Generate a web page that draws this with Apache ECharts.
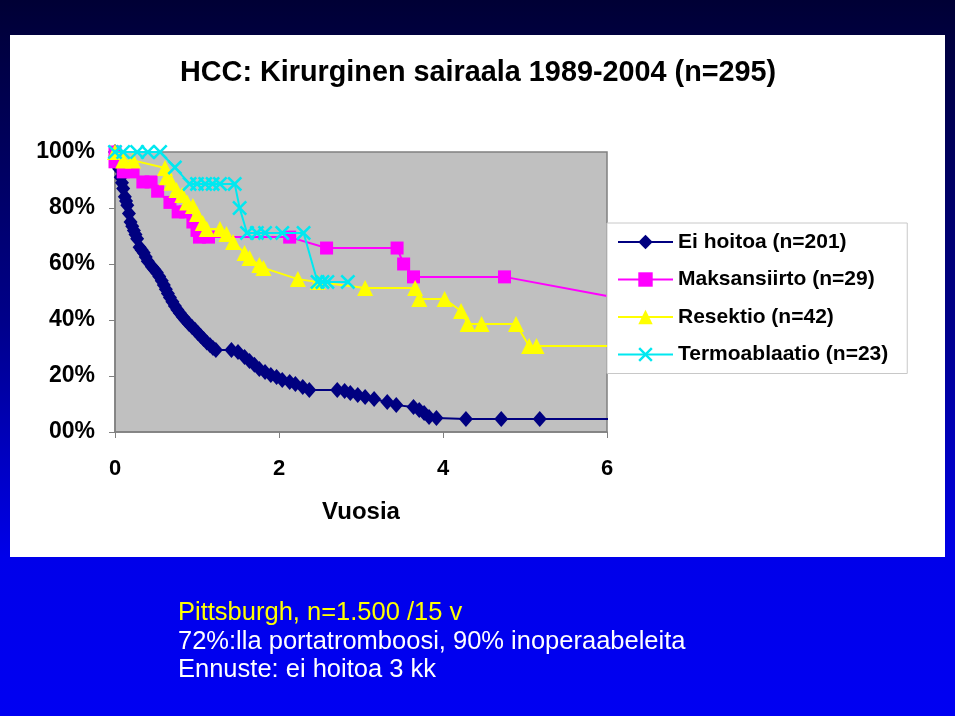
<!DOCTYPE html>
<html>
<head>
<meta charset="utf-8">
<script src="https://cdn.jsdelivr.net/npm/echarts@6/dist/echarts.min.js"></script>
<style>
  html, body { margin: 0; padding: 0; background: #ffffff; }
  #bg { position: absolute; left: 0; top: 0; width: 955px; height: 716px;
        background: linear-gradient(to bottom, #000035 0%, #00008a 45%, #0000ea 78%, #0000f2 100%); }
  #panel { position: absolute; left: 10px; top: 35px; width: 935px; height: 522px; background: #ffffff; }
  #chart { position: absolute; left: 0; top: 0; width: 960px; height: 720px; }
</style>
</head>
<body>
<div id="bg"></div>
<div id="panel"></div>
<div id="chart"></div>
<script>
// ---- data (years, survival %) ----
const seriesNames = ['Ei hoitoa (n=201)', 'Maksansiirto (n=29)', 'Resektio (n=42)', 'Termoablaatio (n=23)'];

const eiHoitoaYears = [0, 0.02, 0.035, 0.05, 0.07, 0.085, 0.10, 0.12, 0.135, 0.15, 0.17, 0.19, 0.21, 0.23, 0.25, 0.27, 0.30, 0.325, 0.35, 0.375, 0.40, 0.45, 0.48, 0.51, 0.54, 0.57, 0.595, 0.62, 0.645, 0.67, 0.70, 0.73, 0.76, 0.79, 0.825, 0.86, 0.90, 0.94, 0.975, 1.01, 1.045, 1.08, 1.12, 1.16, 1.195, 1.23, 1.42, 1.50, 1.58, 1.64, 1.70, 1.76, 1.83, 1.90, 1.97, 2.04, 2.13, 2.20, 2.29, 2.37, 2.71, 2.80, 2.87, 2.96, 3.05, 3.16, 3.32, 3.43, 3.64, 3.71, 3.77, 3.83, 3.92, 4.28, 4.71, 5.18, 6.06];
const eiHoitoaSurvival = [100, 97, 95.5, 94, 91, 89, 87, 84, 82.5, 81, 78, 75, 73.5, 72, 70.5, 69, 66, 65, 64, 62.5, 61, 59, 58, 57, 55.5, 54, 52.5, 51, 49.5, 48, 46.5, 45, 43.7, 42.5, 41.2, 40, 38.7, 37.5, 36.5, 35.4, 34.3, 33.2, 32, 31, 30, 29.3, 29.3, 28.6, 26.8, 25.4, 24, 22.5, 21.4, 20.4, 19.6, 18.6, 17.9, 17.1, 16.1, 15, 15, 14.6, 13.9, 13.2, 12.5, 11.8, 10.7, 9.6, 8.9, 7.9, 6.8, 5.4, 5, 4.6, 4.6, 4.6, 4.6];

const maksansiirtoYears = [0, 0.0, 0.10, 0.22, 0.34, 0.44, 0.52, 0.67, 0.77, 0.86, 0.95, 1.00, 1.03, 1.14, 2.13, 2.58, 3.44, 3.52, 3.64, 4.75, 6.00];
const maksansiirtoSurvival = [100, 96.5, 92.9, 92.9, 89.3, 89.3, 86, 82, 78.6, 78.6, 75, 72, 69.6, 69.6, 69.6, 65.7, 65.7, 60, 55.4, 55.4, 48.6];

const resektioYears = [0, 0.10, 0.22, 0.61, 0.63, 0.69, 0.75, 0.82, 0.88, 0.95, 1.00, 1.07, 1.12, 1.28, 1.36, 1.44, 1.58, 1.64, 1.76, 1.81, 2.23, 2.47, 3.05, 3.66, 3.71, 4.02, 4.22, 4.30, 4.47, 4.89, 5.05, 5.14, 6.00];
const resektioSurvival = [100, 97, 97, 94.3, 91, 89, 86.4, 84.6, 82, 80.7, 77.9, 74.6, 72.5, 72.5, 70.7, 67.9, 63.9, 62.1, 59.6, 58.6, 54.6, 53.6, 51.4, 51.4, 47.5, 47.5, 43.2, 38.6, 38.6, 38.6, 30.7, 30.7, 30.7];

const termoYears = [0, 0.10, 0.27, 0.40, 0.55, 0.73, 0.91, 1.00, 1.10, 1.19, 1.28, 1.46, 1.52, 1.61, 1.73, 1.83, 2.04, 2.30, 2.47, 2.53, 2.59, 2.84];
const termoSurvival = [100, 100, 100, 100, 100, 94.5, 88.6, 88.6, 88.6, 88.6, 88.6, 88.6, 80, 71.1, 71.1, 71.1, 71.1, 71.1, 53.6, 53.6, 53.6, 53.6];

// censored tail points drawn without marker (last point of each series)
const tailNoMarker = [true, true, true, false];

const xTickLabels = ['0', '2', '4', '6'];
const yTickLabels = ['00%', '20%', '40%', '60%', '80%', '100%'];

const titleText = 'HCC: Kirurginen sairaala 1989-2004 (n=295)';
const xAxisName = 'Vuosia';
const noteLines = ['Pittsburgh, n=1.500 /15 v', '72%:lla portatromboosi, 90% inoperaabeleita', 'Ennuste: ei hoitoa 3 kk'];

// ---- build ----
function pairs(xs, ys, noMarkerLast) {
  return xs.map((x, i) => {
    if (noMarkerLast && i === xs.length - 1) return { value: [x, ys[i]], symbol: 'none' };
    return [x, ys[i]];
  });
}

const xMark = 'path://M0,1.2L1.2,0L5,3.8L8.8,0L10,1.2L6.2,5L10,8.8L8.8,10L5,6.2L1.2,10L0,8.8L3.8,5Z';

const styles = [
  { color: '#000080', symbol: 'diamond', size: [14, 16] },
  { color: '#ff00ff', symbol: 'rect', size: 13 },
  { color: '#ffff00', symbol: 'triangle', size: 16 },
  { color: '#00e8f0', symbol: xMark, size: 15 }
];
const allData = [
  pairs(eiHoitoaYears, eiHoitoaSurvival, tailNoMarker[0]),
  pairs(maksansiirtoYears, maksansiirtoSurvival, tailNoMarker[1]),
  pairs(resektioYears, resektioSurvival, tailNoMarker[2]),
  pairs(termoYears, termoSurvival, tailNoMarker[3])
];

const series = seriesNames.map((name, i) => ({
  name: name,
  type: 'line',
  data: allData[i],
  clip: false,
  symbol: styles[i].symbol,
  symbolSize: styles[i].size,
  showAllSymbol: true,
  lineStyle: { color: styles[i].color, width: 2 },
  itemStyle: { color: styles[i].color, opacity: 1 },
  emphasis: { disabled: true },
  animation: false,
  z: 2 + i
}));

const chart = echarts.init(document.getElementById('chart'), null, { renderer: 'canvas' });
const font = 'Liberation Sans, Arial, sans-serif';

chart.setOption({
  backgroundColor: 'transparent',
  animation: false,
  title: [
    { text: titleText, left: 180, top: 59, padding: 0,
      textStyle: { fontFamily: font, fontWeight: 'bold', fontSize: 28.8, color: '#000' } },
    { text: noteLines[0], left: 178, top: 600, padding: 0,
      textStyle: { fontFamily: font, fontWeight: 'normal', fontSize: 25.5, color: '#ffff00' } },
    { text: noteLines[1], left: 178, top: 629, padding: 0,
      textStyle: { fontFamily: font, fontWeight: 'normal', fontSize: 25.5, color: '#ffffff' } },
    { text: noteLines[2], left: 178, top: 657, padding: 0,
      textStyle: { fontFamily: font, fontWeight: 'normal', fontSize: 25.5, color: '#ffffff' } }
  ],
  grid: {
    left: 115, right: 353, top: 152, bottom: 288,
    show: true, backgroundColor: '#c0c0c0', borderColor: '#808080', borderWidth: 1.5
  },
  legend: {
    orient: 'vertical', left: 607, top: 223,
    backgroundColor: '#ffffff', borderColor: '#c8c8c8', borderWidth: 1,
    padding: [8, 19, 8, 10],
    itemWidth: 55, itemHeight: 18, itemGap: 15.5,
    textStyle: { fontFamily: font, fontWeight: 'bold', fontSize: 21, color: '#000', lineHeight: 22 },
    data: seriesNames
  },
  xAxis: {
    type: 'value', min: 0, max: 6, interval: 2,
    name: xAxisName, nameLocation: 'middle', nameGap: 68,
    nameTextStyle: { fontFamily: font, fontWeight: 'bold', fontSize: 24, color: '#000' },
    axisLine: { show: true, onZero: false, lineStyle: { color: '#808080', width: 1.5 } },
    axisTick: { show: true, length: 6, lineStyle: { color: '#808080' } },
    axisLabel: {
      margin: 26, fontFamily: font, fontWeight: 'bold', fontSize: 22, color: '#000',
      formatter: v => xTickLabels[Math.round(v / 2)]
    },
    splitLine: { show: false }
  },
  yAxis: {
    type: 'value', min: 0, max: 100, interval: 20,
    axisLine: { show: true, lineStyle: { color: '#808080', width: 1.5 } },
    axisTick: { show: true, length: 6, lineStyle: { color: '#808080' } },
    axisLabel: {
      margin: 20, fontFamily: font, fontWeight: 'bold', fontSize: 23, color: '#000',
      padding: [5, 0, 0, 0],
      formatter: v => yTickLabels[Math.round(v / 20)]
    },
    splitLine: { show: false }
  },
  series: series
});
</script>
</body>
</html>
